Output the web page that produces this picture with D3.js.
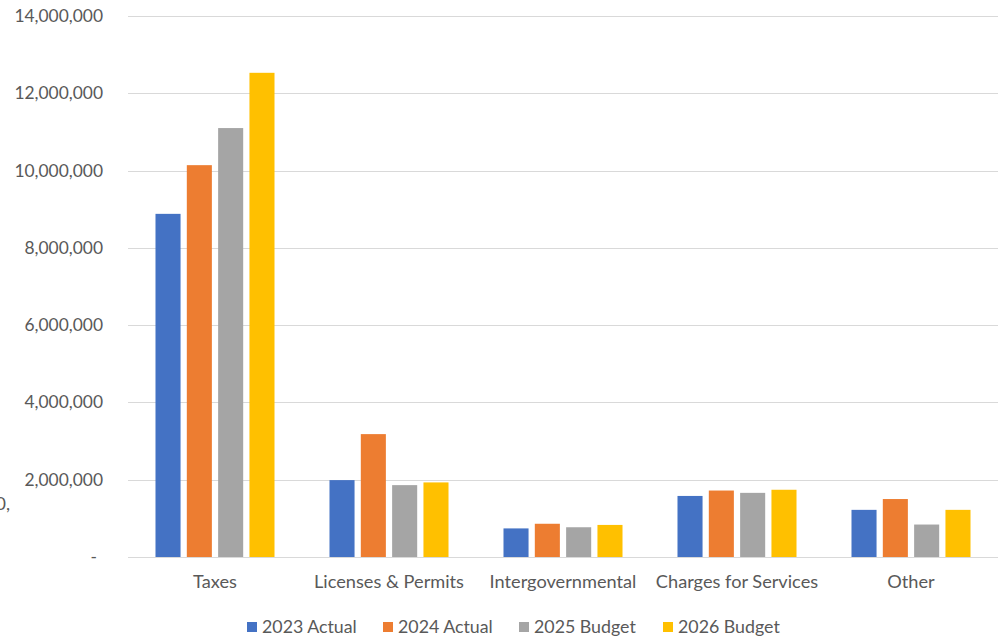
<!DOCTYPE html>
<html>
<head>
<meta charset="utf-8">
<script src="https://cdn.jsdelivr.net/npm/d3@7"></script>
<style>
  html, body { margin: 0; padding: 0; background: #fff; }
  svg { display: block; }
  text { font-family: Lato, "Open Sans", sans-serif; fill: #595959; }
</style>
</head>
<body>
<svg id="chart" width="1004" height="639"></svg>
<script>
// Revenue categories and series
const categories = ["Taxes", "Licenses & Permits", "Intergovernmental", "Charges for Services", "Other"];
const seriesNames = ["2023 Actual", "2024 Actual", "2025 Budget", "2026 Budget"];
const actual2023 = [8880000, 1990000, 740000, 1580000, 1220000];
const actual2024 = [10140000, 3180000, 860000, 1720000, 1500000];
const budget2025 = [11100000, 1860000, 770000, 1660000, 840000];
const budget2026 = [12530000, 1930000, 830000, 1740000, 1220000];
const yTicks = [0, 2000000, 4000000, 6000000, 8000000, 10000000, 12000000, 14000000];

const seriesValues = [actual2023, actual2024, budget2025, budget2026];
const colors = ["#4472C4", "#ED7D31", "#A5A5A5", "#FFC000"];

const svg = d3.select("#chart");
const plotLeft = 128, plotRight = 998, plotTop = 16, plotBottom = 557;

const x0 = d3.scaleBand().domain(categories).range([plotLeft, plotRight])
  .paddingInner(0.316).paddingOuter(0.158);
const x1 = d3.scaleBand().domain(seriesNames).range([0, x0.bandwidth()]).paddingInner(0.2);
const y = d3.scaleLinear().domain([0, 14000000]).range([plotBottom, plotTop]);

// Gridlines
svg.append("g").selectAll("line").data(yTicks).join("line")
  .attr("x1", plotLeft).attr("x2", plotRight)
  .attr("y1", d => Math.round(y(d)) + 0.5).attr("y2", d => Math.round(y(d)) + 0.5)
  .attr("stroke", "#d9d9d9").attr("stroke-width", 1);

// Y axis labels
const fmt = d3.format(",");
svg.append("g").selectAll("text").data(yTicks).join("text")
  .attr("x", d => d === 0 ? 97 : 103)
  .attr("y", d => y(d) + 6)
  .attr("text-anchor", "end")
  .style("font-size", "17.4px")
  .text(d => d === 0 ? "-" : fmt(d));

// Partial label at the left edge
svg.append("text").attr("x", 10).attr("y", 510).attr("text-anchor", "end")
  .style("font-size", "18px").text("0,");

// Bars
const groups = svg.append("g").selectAll("g").data(categories).join("g")
  .attr("transform", c => `translate(${x0(c)},0)`);
groups.selectAll("rect")
  .data((c, i) => seriesNames.map((s, j) => ({ s, v: seriesValues[j][i], j })))
  .join("rect")
  .attr("x", d => x1(d.s))
  .attr("width", x1.bandwidth())
  .attr("y", d => y(d.v))
  .attr("height", d => y(0) - y(d.v))
  .attr("fill", d => colors[d.j]);

// Category labels
svg.append("g").selectAll("text").data(categories).join("text")
  .attr("x", c => x0(c) + x0.bandwidth() / 2)
  .attr("y", 588)
  .attr("text-anchor", "middle")
  .style("font-size", "18.2px")
  .text(c => c);

// Legend
const legendX = [247, 383, 519, 663];
const legend = svg.append("g").selectAll("g").data(seriesNames).join("g")
  .attr("transform", (s, i) => `translate(${legendX[i]},622)`);
legend.append("rect").attr("width", 10).attr("height", 10).attr("fill", (s, i) => colors[i]);
legend.append("text").attr("x", 15).attr("y", 11).style("font-size", "17.8px").text(s => s);
</script>
</body>
</html>
